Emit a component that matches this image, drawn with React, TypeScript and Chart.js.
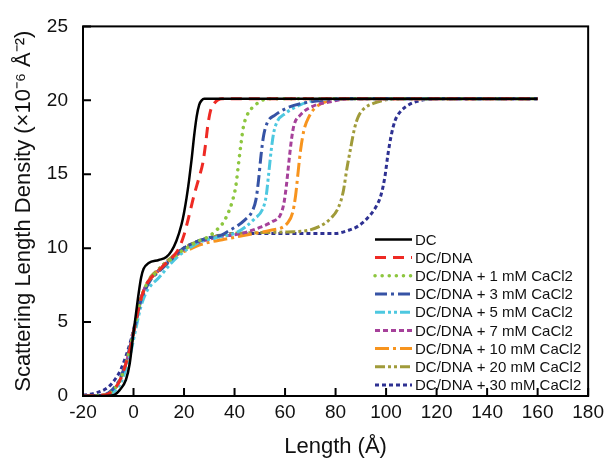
import React, { useEffect, useRef } from "react";
import { Chart, registerables } from "chart.js";

Chart.register(...registerables);

const seriesLabels = [
  "DC",
  "DC/DNA",
  "DC/DNA + 1 mM CaCl2",
  "DC/DNA + 3 mM CaCl2",
  "DC/DNA + 5 mM CaCl2",
  "DC/DNA + 7 mM CaCl2",
  "DC/DNA + 10 mM CaCl2",
  "DC/DNA + 20 mM CaCl2",
  "DC/DNA + 30 mM CaCl2",
];

const xDC = [-20, -12, -8, -5.5, -3, -1.5, 0, 1, 2, 3, 4, 6, 10, 13, 15, 17, 19, 20, 21, 22, 23, 24, 25, 26, 27, 28, 30, 160];
const yDC = [0, 0, 0.05, 0.4, 1.1, 2.2, 4.3, 5.6, 6.9, 8.0, 8.6, 9.0, 9.2, 9.4, 9.8, 10.5, 11.6, 12.4, 13.4, 14.6, 16.0, 17.6, 18.9, 19.7, 20.0, 20.1, 20.1, 20.1];

const xDNA = [-20, -15, -10, -7, -5, -3, -1, 0, 1, 2, 3, 5, 7, 10, 13, 16, 18, 20, 22, 24, 26, 27.5, 28.5, 29.5, 30.5, 32, 35, 160];
const yDNA = [0, 0.02, 0.15, 0.6, 1.2, 2.2, 3.5, 4.3, 5.1, 5.9, 6.6, 7.5, 8.0, 8.5, 9.0, 9.5, 10.0, 10.9, 12.2, 13.6, 14.8, 15.8, 17.0, 18.4, 19.3, 19.8, 20.1, 20.1];

const x1 = [-20, -15, -10, -7, -5, -3, -1, 0, 1, 2, 3, 5, 7, 10, 13, 16, 19, 22, 26, 30, 32, 35, 37, 39, 40.5, 41.5, 42.5, 43.5, 45, 47, 50, 53, 160];
const y1 = [0, 0.02, 0.15, 0.6, 1.2, 2.2, 3.5, 4.3, 5.1, 5.9, 6.6, 7.5, 8.0, 8.5, 9.0, 9.4, 9.8, 10.1, 10.5, 10.8, 11.1, 11.6, 12.2, 13.1, 14.2, 15.6, 17.0, 18.2, 19.0, 19.5, 19.9, 20.1, 20.1];

const x3 = [-20, -15, -10, -7, -5, -3, -1, 0, 1, 2, 3, 5, 7, 10, 13, 16, 19, 22, 26, 30, 35, 38, 41, 44, 47, 48.5, 49.5, 50.5, 51.5, 53, 56, 61, 67, 75, 85, 160];
const y3 = [0, 0.02, 0.2, 0.7, 1.3, 2.3, 3.6, 4.3, 5.0, 5.8, 6.5, 7.3, 7.9, 8.4, 8.9, 9.4, 9.9, 10.2, 10.5, 10.7, 10.9, 11.2, 11.5, 11.9, 12.5, 13.3, 14.6, 16.3, 17.6, 18.5, 19.0, 19.5, 19.8, 20.0, 20.1, 20.1];

const x5 = [-20, -15, -10, -7, -5, -3, -1, 0, 1, 2, 3, 5, 7, 10, 15, 18, 22, 26, 30, 35, 40, 44, 48, 51, 52.5, 53.5, 54.5, 55.5, 57, 60, 66, 72, 80, 160];
const y5 = [0, 0.01, 0.1, 0.4, 0.9, 1.8, 3.0, 3.8, 4.6, 5.4, 6.1, 7.0, 7.5, 8.0, 9.0, 9.5, 10.0, 10.4, 10.6, 10.8, 11.0, 11.4, 12.0, 12.6, 13.5, 15.0, 16.6, 17.8, 18.6, 19.1, 19.7, 20.0, 20.1, 20.1];

const x7 = [-20, -15, -10, -7, -5, -3, -1, 0, 1, 2, 3, 5, 7, 10, 13, 16, 19, 22, 26, 30, 35, 40, 45, 50, 55, 58, 59.5, 60.5, 61.5, 62.5, 63.5, 66, 71, 78, 85, 160];
const y7 = [0, 0.02, 0.15, 0.6, 1.2, 2.2, 3.5, 4.3, 5.1, 5.9, 6.6, 7.5, 8.0, 8.5, 9.0, 9.4, 9.8, 10.1, 10.4, 10.6, 10.8, 10.9, 11.1, 11.4, 11.8, 12.2, 13.0, 14.2, 15.8, 17.3, 18.3, 19.0, 19.6, 19.9, 20.1, 20.1];

const x10 = [-20, -15, -10, -7, -5, -3, -1, 0, 1, 2, 3, 5, 7, 10, 13, 16, 19, 22, 26, 30, 36, 42, 48, 54, 61, 63, 64.2, 65.2, 66.2, 67.5, 69.5, 72, 76, 80, 160];
const y10 = [0, 0.02, 0.15, 0.6, 1.2, 2.2, 3.5, 4.3, 5.1, 5.9, 6.6, 7.5, 8.0, 8.5, 9.0, 9.4, 9.7, 9.9, 10.2, 10.4, 10.6, 10.8, 11.0, 11.2, 11.7, 12.4, 13.6, 15.2, 16.7, 18.0, 18.9, 19.5, 19.9, 20.1, 20.1];

const x20 = [-20, -15, -10, -7, -5, -3, -1, 0, 1, 2, 3, 5, 7, 10, 13, 16, 19, 22, 26, 30, 35, 40, 50, 61, 69, 74, 78, 81, 83, 84.5, 86, 87.5, 89, 91, 95, 99, 105, 160];
const y20 = [0, 0.02, 0.15, 0.6, 1.2, 2.2, 3.5, 4.3, 5.1, 5.9, 6.6, 7.5, 8.1, 8.6, 9.1, 9.5, 9.9, 10.2, 10.5, 10.7, 10.9, 11.0, 11.05, 11.1, 11.2, 11.5, 12.0, 12.7, 13.8, 15.4, 16.8, 18.1, 18.9, 19.4, 19.8, 20.0, 20.1, 20.1];

const x30 = [-20, -15, -10, -7, -5, -3, -1, 0, 1, 2, 3, 5, 7, 10, 13, 16, 19, 22, 26, 30, 35, 40, 50, 60, 70, 80, 85, 89, 93, 96, 98, 99.5, 100.7, 102, 103.5, 105.5, 109, 114, 120, 160];
const y30 = [0.05, 0.2, 0.6, 1.2, 1.8, 2.7, 3.8, 4.5, 5.2, 5.9, 6.6, 7.4, 8.0, 8.5, 9.0, 9.5, 9.9, 10.2, 10.5, 10.7, 10.9, 11.0, 11.0, 11.0, 11.0, 11.0, 11.2, 11.5, 12.1, 12.8, 13.6, 14.8, 16.3, 17.6, 18.6, 19.2, 19.7, 20.0, 20.1, 20.1];

const xTicks = [-20, 0, 20, 40, 60, 80, 100, 120, 140, 160, 180];
const yTicks = [0, 5, 10, 15, 20, 25];

const seriesX = [xDC, xDNA, x1, x3, x5, x7, x10, x20, x30];
const seriesY = [yDC, yDNA, y1, y3, y5, y7, y10, y20, y30];

const styles = [
  { color: "#000000", dash: [], width: 2.5, cap: "butt" },
  { color: "#ee2a24", dash: [11, 7], width: 3, cap: "butt" },
  { color: "#8dc63f", dash: [0.1, 7], width: 3.5, cap: "round" },
  { color: "#3653a5", dash: [12, 4, 3, 4], width: 3, cap: "butt" },
  { color: "#4dc8e0", dash: [10, 3, 3, 3, 3, 3], width: 3, cap: "butt" },
  { color: "#a6419a", dash: [5, 3], width: 3, cap: "butt" },
  { color: "#f7941e", dash: [14, 4, 3, 4], width: 3, cap: "butt" },
  { color: "#a09b3a", dash: [10, 3, 3, 3, 3, 3], width: 3, cap: "butt" },
  { color: "#2e3192", dash: [4, 3], width: 3, cap: "butt" },
];

const FONT = "'Liberation Sans', Arial, sans-serif";

const framePlugin = {
  id: "frameAndLegend",
  afterDatasetsDraw(chart: any) {
    const { ctx, chartArea } = chart;
    const xs = chart.scales.x;
    const ys = chart.scales.y;
    ctx.save();
    ctx.strokeStyle = "#000";
    ctx.lineWidth = 2;
    ctx.setLineDash([]);
    ctx.strokeRect(chartArea.left, chartArea.top, chartArea.right - chartArea.left, chartArea.bottom - chartArea.top);
    ctx.beginPath();
    xTicks.forEach((v) => {
      const px = xs.getPixelForValue(v);
      ctx.moveTo(px, chartArea.bottom);
      ctx.lineTo(px, chartArea.bottom - 8);
    });
    yTicks.forEach((v) => {
      const py = ys.getPixelForValue(v);
      ctx.moveTo(chartArea.left, py);
      ctx.lineTo(chartArea.left + 8, py);
    });
    ctx.stroke();

    // legend
    const lx0 = chartArea.left + 292;
    const lx1 = lx0 + 37;
    const tx = lx1 + 3;
    const y0 = chartArea.top + 213;
    const step = 18.2;
    ctx.font = `15px ${FONT}`;
    ctx.textBaseline = "middle";
    ctx.textAlign = "left";
    chart.data.datasets.forEach((ds: any, i: number) => {
      const y = y0 + i * step;
      ctx.beginPath();
      ctx.strokeStyle = ds.borderColor;
      ctx.lineWidth = ds.borderWidth;
      ctx.lineCap = ds.borderCapStyle;
      ctx.setLineDash(ds.borderDash);
      ctx.moveTo(lx0, y);
      ctx.lineTo(lx1, y);
      ctx.stroke();
      ctx.setLineDash([]);
      ctx.fillStyle = "#111";
      ctx.fillText(ds.label, tx, y + 1);
    });
    ctx.restore();
  },
};

export default function App() {
  const ref = useRef<HTMLCanvasElement | null>(null);
  useEffect(() => {
    if (!ref.current) return;
    const datasets = seriesLabels.map((label, i) => ({
      label,
      data: seriesX[i].map((x, j) => ({ x, y: seriesY[i][j] })),
      borderColor: styles[i].color,
      backgroundColor: styles[i].color,
      borderDash: styles[i].dash,
      borderWidth: styles[i].width,
      borderCapStyle: styles[i].cap,
      pointRadius: 0,
      cubicInterpolationMode: "monotone",
      fill: false,
    }));
    const chart = new Chart(ref.current, {
      type: "line",
      data: { datasets: datasets as any },
      options: {
        animation: false,
        responsive: true,
        maintainAspectRatio: false,
        layout: { padding: { left: 0, right: 17, top: 20, bottom: 0 } },
        plugins: { legend: { display: false }, tooltip: { enabled: false } },
        scales: {
          x: {
            type: "linear",
            min: -20,
            max: 180,
            afterFit: (s: any) => { s.height = 64; },
            afterBuildTicks: (s: any) => { s.ticks = xTicks.map((v) => ({ value: v })); },
            ticks: { color: "#111", font: { family: FONT, size: 19 }, padding: 5, maxRotation: 0, autoSkip: false },
            grid: { display: false, drawTicks: false },
            border: { display: false },
            title: { display: true, text: "Length (Å)", color: "#111", font: { family: FONT, size: 22 }, padding: { top: 1, bottom: 0 } },
          },
          y: {
            type: "linear",
            min: 0,
            max: 25,
            afterFit: (s: any) => { s.width = 83; },
            afterBuildTicks: (s: any) => { s.ticks = yTicks.map((v) => ({ value: v })); },
            ticks: { color: "#111", font: { family: FONT, size: 19 }, padding: 15 },
            grid: { display: false, drawTicks: false },
            border: { display: false },
            title: { display: true, text: "Scattering Length Density (×10⁻⁶ Å⁻²)", color: "#111", font: { family: FONT, size: 22 }, padding: { top: 11, bottom: 0 } },
          },
        },
      },
      plugins: [framePlugin],
    });
    return () => chart.destroy();
  }, []);
  return (
    <div style={{ position: "absolute", left: 0, top: 0, width: 609, height: 460 }}>
      <canvas ref={ref} />
    </div>
  );
}
